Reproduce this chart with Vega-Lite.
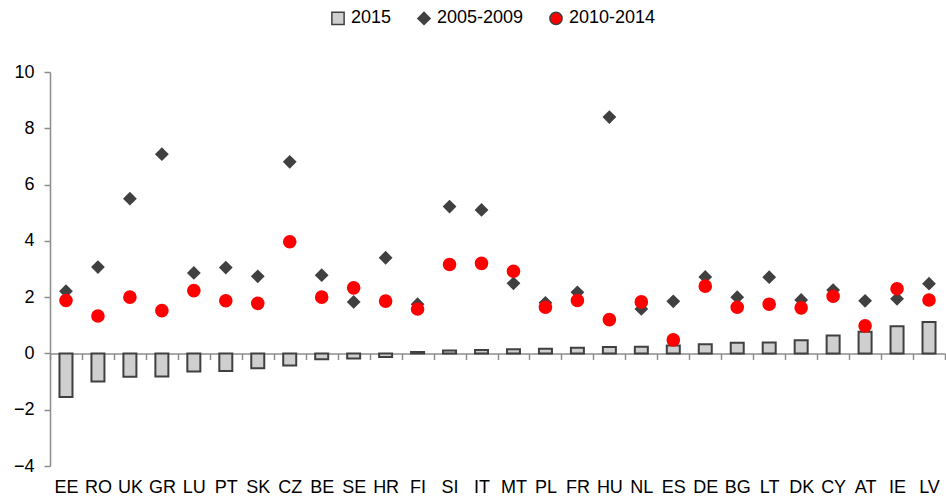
{
  "$schema": "https://vega.github.io/schema/vega-lite/v6.json",
  "width": 895,
  "height": 394,
  "autosize": {"type": "none"},
  "padding": {"left": 50, "top": 72, "right": 1, "bottom": 36},
  "background": "white",
  "config": {
    "view": {"stroke": null},
    "font": "Liberation Sans",
    "axis": {"labelFont": "Liberation Sans", "labelFontSize": 18, "labelColor": "#000000", "grid": false},
    "legend": {"labelFont": "Liberation Sans", "labelFontSize": 18, "labelColor": "#000000"}
  },
  "data": {
    "values": [
      {"country": "EE", "series": "2015", "value": -1.55},
      {"country": "RO", "series": "2015", "value": -1.0},
      {"country": "UK", "series": "2015", "value": -0.83},
      {"country": "GR", "series": "2015", "value": -0.82},
      {"country": "LU", "series": "2015", "value": -0.64},
      {"country": "PT", "series": "2015", "value": -0.62},
      {"country": "SK", "series": "2015", "value": -0.53},
      {"country": "CZ", "series": "2015", "value": -0.43},
      {"country": "BE", "series": "2015", "value": -0.21},
      {"country": "SE", "series": "2015", "value": -0.18},
      {"country": "HR", "series": "2015", "value": -0.13},
      {"country": "FI", "series": "2015", "value": 0.05},
      {"country": "SI", "series": "2015", "value": 0.1},
      {"country": "IT", "series": "2015", "value": 0.12},
      {"country": "MT", "series": "2015", "value": 0.15},
      {"country": "PL", "series": "2015", "value": 0.17},
      {"country": "FR", "series": "2015", "value": 0.2},
      {"country": "HU", "series": "2015", "value": 0.23},
      {"country": "NL", "series": "2015", "value": 0.24},
      {"country": "ES", "series": "2015", "value": 0.28},
      {"country": "DE", "series": "2015", "value": 0.33},
      {"country": "BG", "series": "2015", "value": 0.38},
      {"country": "LT", "series": "2015", "value": 0.39},
      {"country": "DK", "series": "2015", "value": 0.47},
      {"country": "CY", "series": "2015", "value": 0.64},
      {"country": "AT", "series": "2015", "value": 0.77},
      {"country": "IE", "series": "2015", "value": 0.97},
      {"country": "LV", "series": "2015", "value": 1.12},
      {"country": "EE", "series": "2005-2009", "value": 2.21},
      {"country": "RO", "series": "2005-2009", "value": 3.07},
      {"country": "UK", "series": "2005-2009", "value": 5.5},
      {"country": "GR", "series": "2005-2009", "value": 7.08},
      {"country": "LU", "series": "2005-2009", "value": 2.86},
      {"country": "PT", "series": "2005-2009", "value": 3.05},
      {"country": "SK", "series": "2005-2009", "value": 2.74},
      {"country": "CZ", "series": "2005-2009", "value": 6.81},
      {"country": "BE", "series": "2005-2009", "value": 2.78},
      {"country": "SE", "series": "2005-2009", "value": 1.83},
      {"country": "HR", "series": "2005-2009", "value": 3.4},
      {"country": "FI", "series": "2005-2009", "value": 1.75},
      {"country": "SI", "series": "2005-2009", "value": 5.22},
      {"country": "IT", "series": "2005-2009", "value": 5.1},
      {"country": "MT", "series": "2005-2009", "value": 2.49},
      {"country": "PL", "series": "2005-2009", "value": 1.8},
      {"country": "FR", "series": "2005-2009", "value": 2.17},
      {"country": "HU", "series": "2005-2009", "value": 8.4},
      {"country": "NL", "series": "2005-2009", "value": 1.58},
      {"country": "ES", "series": "2005-2009", "value": 1.85},
      {"country": "DE", "series": "2005-2009", "value": 2.72},
      {"country": "BG", "series": "2005-2009", "value": 2.0},
      {"country": "LT", "series": "2005-2009", "value": 2.71},
      {"country": "DK", "series": "2005-2009", "value": 1.9},
      {"country": "CY", "series": "2005-2009", "value": 2.25},
      {"country": "AT", "series": "2005-2009", "value": 1.87},
      {"country": "IE", "series": "2005-2009", "value": 1.94},
      {"country": "LV", "series": "2005-2009", "value": 2.48},
      {"country": "EE", "series": "2010-2014", "value": 1.88},
      {"country": "RO", "series": "2010-2014", "value": 1.33},
      {"country": "UK", "series": "2010-2014", "value": 2.0},
      {"country": "GR", "series": "2010-2014", "value": 1.52},
      {"country": "LU", "series": "2010-2014", "value": 2.23},
      {"country": "PT", "series": "2010-2014", "value": 1.87},
      {"country": "SK", "series": "2010-2014", "value": 1.78},
      {"country": "CZ", "series": "2010-2014", "value": 3.97},
      {"country": "BE", "series": "2010-2014", "value": 2.0},
      {"country": "SE", "series": "2010-2014", "value": 2.33},
      {"country": "HR", "series": "2010-2014", "value": 1.86},
      {"country": "FI", "series": "2010-2014", "value": 1.58},
      {"country": "SI", "series": "2010-2014", "value": 3.16},
      {"country": "IT", "series": "2010-2014", "value": 3.2},
      {"country": "MT", "series": "2010-2014", "value": 2.92},
      {"country": "PL", "series": "2010-2014", "value": 1.64},
      {"country": "FR", "series": "2010-2014", "value": 1.88},
      {"country": "HU", "series": "2010-2014", "value": 1.2},
      {"country": "NL", "series": "2010-2014", "value": 1.83},
      {"country": "ES", "series": "2010-2014", "value": 0.48},
      {"country": "DE", "series": "2010-2014", "value": 2.39},
      {"country": "BG", "series": "2010-2014", "value": 1.64},
      {"country": "LT", "series": "2010-2014", "value": 1.75},
      {"country": "DK", "series": "2010-2014", "value": 1.62},
      {"country": "CY", "series": "2010-2014", "value": 2.03},
      {"country": "AT", "series": "2010-2014", "value": 0.98},
      {"country": "IE", "series": "2010-2014", "value": 2.3},
      {"country": "LV", "series": "2010-2014", "value": 1.9}
    ]
  },
  "encoding": {
    "x": {
      "field": "country",
      "type": "nominal",
      "sort": ["EE","RO","UK","GR","LU","PT","SK","CZ","BE","SE","HR","FI","SI","IT","MT","PL","FR","HU","NL","ES","DE","BG","LT","DK","CY","AT","IE","LV"],
      "scale": {"paddingInner": 0, "paddingOuter": 0},
      "axis": {
        "title": null,
        "orient": "bottom",
        "offset": -112.6,
        "labelAngle": 0,
        "labelPadding": 119,
        "tickBand": "extent",
        "tickSize": 6,
        "tickColor": "#8c8c8c",
        "tickWidth": 1.5,
        "domainColor": "#8c8c8c",
        "domainWidth": 1.5
      }
    },
    "y": {
      "field": "value",
      "type": "quantitative",
      "scale": {"domain": [-4, 10], "nice": false, "zero": false},
      "axis": {
        "title": null,
        "values": [-4, -2, 0, 2, 4, 6, 8, 10],
        "tickSize": 6,
        "tickColor": "#8c8c8c",
        "tickWidth": 1.5,
        "domainColor": "#8c8c8c",
        "domainWidth": 1.5,
        "labelPadding": 10
      }
    },
    "color": {
      "field": "series",
      "type": "nominal",
      "scale": {"domain": ["2015", "2005-2009", "2010-2014"], "range": ["#cfcfcf", "#404040", "#ff0000"]},
      "legend": {
        "title": null,
        "orient": "none",
        "direction": "horizontal",
        "legendX": 279,
        "legendY": -63,
        "columnPadding": 22,
        "symbolSize": 150,
        "labelOffset": 4,
        "encode": {
          "symbols": {
            "update": {
              "stroke": {"signal": "datum.value === '2015' ? '#404040' : 'transparent'"},
              "strokeWidth": {"signal": "datum.value === '2015' ? 1.5 : 0"}
            }
          }
        }
      }
    },
    "shape": {
      "field": "series",
      "type": "nominal",
      "scale": {"domain": ["2015", "2005-2009", "2010-2014"], "range": ["square", "diamond", "circle"]},
      "legend": {
        "title": null,
        "orient": "none",
        "direction": "horizontal",
        "legendX": 279,
        "legendY": -63,
        "columnPadding": 22,
        "symbolSize": 150,
        "labelOffset": 4,
        "encode": {
          "symbols": {
            "update": {
              "stroke": {"signal": "datum.value === '2015' ? '#404040' : 'transparent'"},
              "strokeWidth": {"signal": "datum.value === '2015' ? 1.5 : 0"}
            }
          }
        }
      }
    }
  },
  "layer": [
    {
      "transform": [{"filter": "datum.series === '2015'"}],
      "mark": {"type": "bar", "width": 13, "stroke": "#404040", "strokeWidth": 2}
    },
    {
      "transform": [{"filter": "datum.series === '2005-2009'"}],
      "mark": {"type": "point", "filled": true, "size": 190, "opacity": 1}
    },
    {
      "transform": [{"filter": "datum.series === '2010-2014'"}],
      "mark": {"type": "point", "filled": true, "size": 185, "opacity": 1}
    }
  ]
}
